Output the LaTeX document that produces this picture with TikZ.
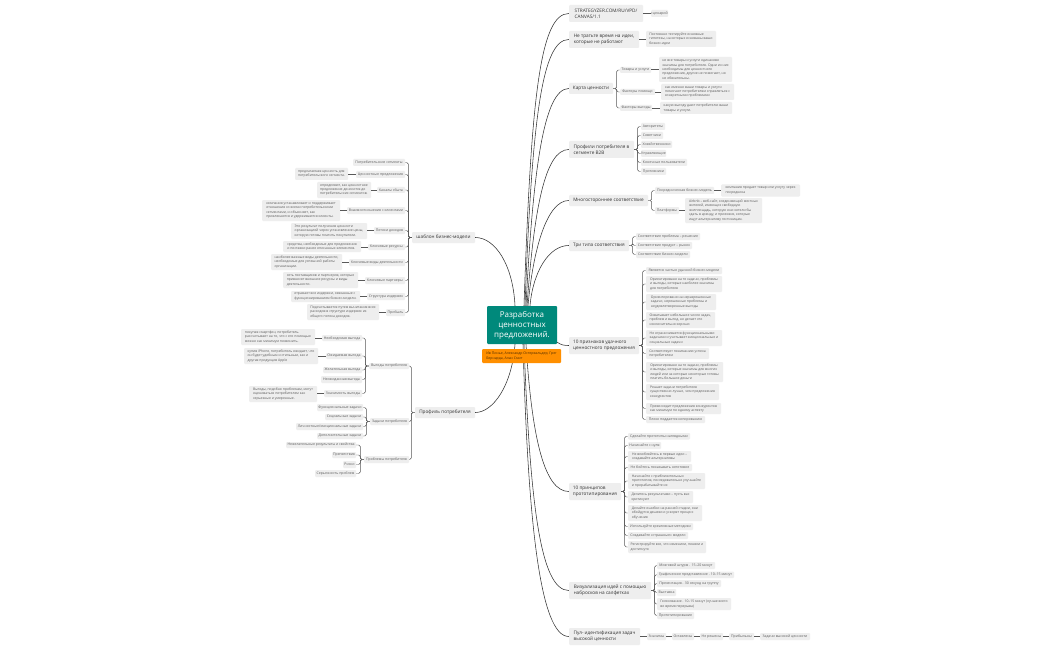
\documentclass[tikz,border=0pt]{standalone}
\usepackage{fontspec}
\setmainfont{Open Sans}
\definecolor{boxg}{HTML}{EEEEEE}
\definecolor{teal1}{HTML}{00897B}
\definecolor{oran}{HTML}{FF8F00}
\tikzset{
  bx/.style={fill=boxg,rounded corners=1pt,inner sep=0pt,align=left,anchor=center},
  topb/.style={bx,text=black!80,font=\fontsize{4.7}{6.2}\selectfont},
  subb/.style={bx,text=black!65,font=\fontsize{3.5}{4.5}\selectfont},
  detb/.style={bx,text=black!65,font=\fontsize{3.4}{4.4}\selectfont},
  rootb/.style={bx,fill=teal1,text=white,align=center,font=\fontsize{8}{10}\selectfont},
  noteb/.style={bx,fill=oran,text=black!70!oran,font=\fontsize{3.5}{4.5}\selectfont},
  mainline/.style={draw=black!80,line width=0.55pt},
  lv/.style={draw=black!65,line width=0.45pt,rounded corners=1.5pt},
}
\newcommand\bxn[7]{\node[#6,minimum width={(#4-#2)*1pt},minimum height={(#5-#3)*1pt}] (#1) at ({(#2+#4)/2},{(#3+#5)/2}) {#7};}
\newcommand\kidsR[2]{\foreach \c in {#2}{\draw[lv] (#1.east) -- ++(3.5,0) |- (\c.west);}}
\newcommand\kidsL[2]{\foreach \c in {#2}{\draw[lv] (#1.west) -- ++(-3.5,0) |- (\c.east);}}
\newcommand\hl[2]{\draw[lv] (#1.east |- #2.west) -- (#2.west);}
\begin{document}
\begin{tikzpicture}[x=1pt,y=-1pt]
\fill[white] (0,0) rectangle (1050,650);
\useasboundingbox (0,0) rectangle (1050,650);
% root
\bxn{ctr}{487}{306}{557}{344}{rootb}{Разработка\\ценностных\\предложений.}
% right upper
\bxn{r1}{569}{5}{643}{22}{topb}{STRATEGYZER.COM/RU/VPD/\\CANVAS/1.1}
\bxn{r1a}{651}{10}{668}{17}{subb}{сценарий}
\bxn{r2}{569}{31}{639}{48}{topb}{Не тратьте время на идеи,\\которые не работают}
\bxn{r2a}{646}{31}{716}{47}{detb}{Постоянно тестируйте основные\\гипотезы, на которых основаны ваши\\бизнес-идеи}
\bxn{r3}{569}{83}{613}{94}{topb}{Карта ценности}
\bxn{r3a}{620}{67}{651}{73}{subb}{Товары и услуги}
\bxn{r3b}{620}{89}{655}{95}{subb}{Факторы помощи}
\bxn{r3c}{620}{105}{652}{111}{subb}{Факторы выгоды}
\bxn{r3ad}{659}{57}{732}{82}{detb}{не все товары и услуги одинаково\\значимы для потребителя. Одни из них\\необходимы для ценностного\\предложения, другие не помогают, но\\не обязательны.}
\bxn{r3bd}{661}{84}{734}{100}{detb}{как именно ваши товары и услуги\\помогают потребителям справляться с\\конкретными проблемами}
\bxn{r3cd}{660}{102}{732}{114}{detb}{какую выгоду дают потребителю ваши\\товары и услуги.}
\bxn{r4}{569}{141}{634}{158}{topb}{Профили потребителя в\\сегменте B2B}
\bxn{r4a}{641}{123}{665}{130}{subb}{Авторитеты}
\bxn{r4b}{641}{132}{663}{139}{subb}{Советчики}
\bxn{r4c}{641}{141}{672}{148}{subb}{Хозяйственники}
\bxn{r4d}{641}{150}{666}{157}{subb}{Управляющие}
\bxn{r4e}{641}{159}{687}{166}{subb}{Конечные пользователи}
\bxn{r4f}{641}{168}{666}{175}{subb}{Противники}
\bxn{r5}{569}{195}{648}{206}{topb}{Многостороннее соответствие}
\bxn{r5a}{655}{187}{714}{194}{subb}{Посредническая бизнес-модель}
\bxn{r5b}{655}{207}{679}{214}{subb}{Платформы}
\bxn{r5ad}{721}{184.500}{800}{196.500}{detb}{компания продает товар или услугу через\\посредника}
\bxn{r5bd}{685}{198}{762}{223}{detb}{Airbnb – веб-сайт, соединяющий местных\\жителей, имеющих свободную\\жилплощадь, которую они хотели бы\\сдать в аренду, и приезжих, которые\\ищут альтернативу гостиницам.}
\bxn{r6}{569}{240}{629}{251}{topb}{Три типа соответствия}
\bxn{r6a}{636}{233}{700}{240}{subb}{Соответствие проблема – решение}
\bxn{r6b}{636}{242}{692}{249}{subb}{Соответствие продукт – рынок}
\bxn{r6c}{636}{251}{690}{258}{subb}{Соответствие бизнес-модели}
% 10 priznakov
\bxn{p}{569}{337}{639}{354}{topb}{10 признаков удачного\\ценностного предложения}
\bxn{p1}{646}{267}{722}{274}{subb}{Является частью удачной бизнес-модели}
\bxn{p2}{646}{276}{722}{292}{detb}{Ориентировано на те задачи, проблемы\\и выгоды, которые наиболее значимы\\для потребителя}
\bxn{p3}{646}{294}{716}{310}{detb}{Ориентировано на неразрешенные\\задачи, нерешенные проблемы и\\неудовлетворенные выгоды}
\bxn{p4}{646}{312}{715}{328}{detb}{Охватывает небольшое число задач,\\проблем и выгод, но делает это\\исключительно хорошо}
\bxn{p5}{646}{330}{722}{346}{detb}{Не ограничивается функциональными\\задачами и учитывает эмоциональные и\\социальные задачи}
\bxn{p6}{646}{348}{709}{359}{detb}{Соответствует пониманию успеха\\потребителем}
\bxn{p7}{646}{362}{723}{382}{detb}{Ориентировано на те задачи, проблемы\\и выгоды, которые значимы для многих\\людей или за которые некоторые готовы\\платить большие деньги}
\bxn{p8}{646}{384}{719}{400}{detb}{Решает задачи потребителя\\существенно лучше, чем предложения\\конкурентов}
\bxn{p9}{646}{403}{721}{414}{detb}{Превосходит предложения конкурентов\\как минимум по одному аспекту}
\bxn{p10}{646}{416}{705}{423}{subb}{Плохо поддается копированию}
% 10 principov
\bxn{q}{569}{483}{621}{500}{topb}{10 принципов\\прототипирования}
\bxn{q1}{628}{433}{690}{439.500}{subb}{Сделайте прототипы наглядными}
\bxn{q2}{628}{442}{661}{449}{subb}{Начинайте с нуля}
\bxn{q3}{628}{451}{691}{462}{detb}{Не влюбляйтесь в первые идеи –\\создавайте альтернативы}
\bxn{q4}{628}{464}{692}{471}{subb}{Не бойтесь показывать неготовое}
\bxn{q5}{628}{473}{705}{489}{detb}{Начинайте с приблизительных\\прототипов, последовательно улучшайте\\и прорабатывайте их}
\bxn{q6}{628}{491}{693}{503}{detb}{Делитесь результатами – пусть вас\\критикуют}
\bxn{q7}{628}{505}{702}{521}{detb}{Делайте ошибки на ранней стадии, они\\обойдутся дешево и ускорят процесс\\обучения}
\bxn{q8}{628}{523}{693}{530}{subb}{Используйте креативные методики}
\bxn{q9}{628}{532}{688}{539}{subb}{Создавайте «страшные» модели}
\bxn{q10}{628}{541}{706}{553}{detb}{Регистрируйте все, что изменили, поняли и\\достигнуто}
% vis
\bxn{v}{569}{582}{651}{599}{topb}{Визуализация идей с помощью\\набросков на салфетках}
\bxn{v1}{657}{562}{715}{569}{subb}{Мозговой штурм . 15–20 минут}
\bxn{v2}{657}{571.500}{734}{578}{subb}{Графическое представление . 10–15 минут}
\bxn{v3}{657}{580}{721}{587}{subb}{Презентация . 30 секунд на группу}
\bxn{v4}{657}{589}{676}{596}{subb}{Выставка}
\bxn{v5}{657}{598}{731}{610}{detb}{Голосование . 10–15 минут (лучше всего\\во время перерыва)}
\bxn{v6}{657}{612}{694}{619}{subb}{Прототипирование}
\bxn{u}{569}{628}{640}{645}{topb}{Пул- идентификация задач\\высокой ценности}
\bxn{u1}{647}{633}{666}{640}{subb}{Значимы}
\bxn{u2}{672}{633}{694}{640}{subb}{Оставлены}
\bxn{u3}{700}{633}{723}{640}{subb}{Не решены}
\bxn{u4}{729}{633}{754}{640}{subb}{Прибыльны}
\bxn{u5}{760}{633}{810}{640}{subb}{Задачи высокой ценности}
% left: business model
\bxn{m}{412}{232}{475}{243}{topb}{шаблон бизнес-модели}
\bxn{m1}{353}{159}{405}{166}{subb}{Потребительские сегменты}
\bxn{m2}{356}{171}{405}{178}{subb}{Ценностные предложения}
\bxn{m2d}{295}{168}{348}{180}{detb}{предлагаемая ценность для\\потребительского сегмента.}
\bxn{m3}{377}{187}{405}{193}{subb}{Каналы сбыта}
\bxn{m3d}{317}{182}{371}{198}{detb}{определяют, как ценностное\\предложение доносится до\\потребительских сегментов.}
\bxn{m4}{347}{207}{405}{214}{subb}{Взаимоотношения с клиентами}
\bxn{m4d}{262}{200}{340}{221}{detb}{компания устанавливает и поддерживает\\отношения со всеми потребительскими\\сегментами, и объясняет, как\\привлекаются и удерживаются клиенты.}
\bxn{m5}{374}{227}{405}{234}{subb}{Потоки доходов}
\bxn{m5d}{291}{223}{367}{239}{detb}{Это результат получения ценности\\организацией через установление цены,\\которую готовы платить покупатели.}
\bxn{m6}{368}{244}{405}{250}{subb}{Ключевые ресурсы}
\bxn{m6d}{283}{241}{361}{252}{detb}{средства, необходимые для предложения\\и поставки ранее описанных элементов.}
\bxn{m7}{349}{259}{405}{266}{subb}{Ключевые виды деятельности}
\bxn{m7d}{271}{254}{342}{270}{detb}{наиболее важные виды деятельности,\\необходимые для успешной работы\\организации.}
\bxn{m8}{365}{277}{405}{284}{subb}{Ключевые партнеры}
\bxn{m8d}{283}{272}{358}{288}{detb}{сеть поставщиков и партнеров, которые\\привносят внешние ресурсы и виды\\деятельности.}
\bxn{m9}{367}{293}{405}{300}{subb}{Структура издержек}
\bxn{m9d}{291}{291}{360}{302}{detb}{отражает все издержки, связанные с\\функционированием бизнес-модели.}
\bxn{m10}{386}{309}{405}{316}{subb}{Прибыль}
\bxn{m10d}{307}{304}{379}{320}{detb}{Подсчитывается путем вычитания всех\\расходов в структуре издержек из\\общего потока доходов.}
% left: profile
\bxn{c}{415}{407}{475}{418}{topb}{Профиль потребителя}
\bxn{g}{369}{363}{409}{369}{subb}{Выгоды потребителя}
\bxn{g1}{322}{335}{362}{341}{subb}{Необходимая выгода}
\bxn{g1d}{241}{329}{315}{345}{detb}{покупая смартфон, потребитель\\рассчитывает на то, что с его помощью\\можно как минимум позвонить.}
\bxn{g2}{326}{353}{362}{359}{subb}{Ожидаемая выгода}
\bxn{g2d}{244}{348}{318}{364}{detb}{купив iPhone, потребитель ожидает, что\\он будет удобным и стильным, как и\\другая продукция Apple}
\bxn{g3}{323}{367}{362}{373}{subb}{Желательная выгода}
\bxn{g4}{321}{376}{362}{383}{subb}{Неожиданная выгода}
\bxn{g5}{324}{390}{362}{397}{subb}{Значимость выгоды}
\bxn{g5d}{249}{386}{317}{402}{detb}{Выгоды, подобно проблемам, могут\\оцениваться потребителем как\\серьезные и умеренные.}
\bxn{z}{370}{418}{409}{425}{subb}{Задачи потребителя}
\bxn{z1}{317}{404}{363}{411}{subb}{Функциональные задачи}
\bxn{z2}{325}{414}{363}{420}{subb}{Социальные задачи}
\bxn{z3}{296}{423}{363}{430}{subb}{Личностные/эмоциональные задачи}
\bxn{z4}{317}{433}{363}{439}{subb}{Дополнительные задачи}
\bxn{t}{364}{456}{409}{463}{subb}{Проблемы потребителя}
\bxn{t1}{286}{442}{356}{448}{subb}{Нежелательные результаты и свойства}
\bxn{t2}{332}{452}{356}{458}{subb}{Препятствия}
\bxn{t3}{343}{461}{356}{468}{subb}{Риски}
\bxn{t4}{315}{470}{356}{477}{subb}{Серьезность проблем}
% main curves
\draw[mainline] ([xshift=2pt]ctr.north) .. controls +(7,-206) and +(-29,0) .. (r1.west);
\draw[mainline] ([xshift=3pt]ctr.north) .. controls +(7,-186) and +(-27,0) .. (r2.west);
\draw[mainline] ([xshift=4pt]ctr.north) .. controls +(7,-136) and +(-25,0) .. (r3.west);
\draw[mainline] ([xshift=5pt]ctr.north) .. controls +(7,-96) and +(-24,0) .. (r4.west);
\draw[mainline] ([xshift=6pt]ctr.north) .. controls +(5,-56) and +(-22,0) .. (r5.west);
\draw[mainline] ([xshift=8pt]ctr.north) .. controls +(3,-34) and +(-20,0) .. (r6.west);
\draw[mainline] ([xshift=-7pt]ctr.north) .. controls +(-2,-41) and +(20,0) .. (m.east);
\draw[mainline] ([xshift=-7pt]ctr.south) .. controls +(-3,41) and +(18,0) .. (c.east);
\draw[mainline] ([yshift=2pt]ctr.south east) .. controls +(4,3) and +(-4,0) .. (p.west);
\draw[mainline] ([xshift=4pt]ctr.south) .. controls +(6,96) and +(-24,0) .. (q.west);
\draw[mainline] ([xshift=2pt]ctr.south) .. controls +(6,156) and +(-29,0) .. (v.west);
\draw[mainline] ([xshift=1pt]ctr.south) .. controls +(5,176) and +(-29,0) .. (u.west);
% note above lines
\bxn{nt}{482}{349}{561}{363}{noteb}{Ив Пинье, Александр Остервальдер, Грег\\Бернарда, Алан Смит}
% sub connectors right
\draw[lv] (r1.east |- r1a.west) -- (r1a.west);
\draw[lv] (r2.east |- r2a.west) -- (r2a.west);
\kidsR{r3}{r3a,r3b,r3c}
\hl{r3a}{r3ad}\hl{r3b}{r3bd}\hl{r3c}{r3cd}
\kidsR{r4}{r4a,r4b,r4c,r4d,r4e,r4f}
\kidsR{r5}{r5a,r5b}
\hl{r5a}{r5ad}\hl{r5b}{r5bd}
\kidsR{r6}{r6a,r6b,r6c}
\kidsR{p}{p1,p2,p3,p4,p5,p6,p7,p8,p9,p10}
\kidsR{q}{q1,q2,q3,q4,q5,q6,q7,q8,q9,q10}
\kidsR{v}{v1,v2,v3,v4,v5,v6}
\draw[lv] (u.east |- u1.west) -- (u1.west);
\hl{u1}{u2}\hl{u2}{u3}\hl{u3}{u4}\hl{u4}{u5}
% left connectors
\kidsL{m}{m1,m2,m3,m4,m5,m6,m7,m8,m9,m10}
\hl{m2d}{m2}\hl{m3d}{m3}\hl{m4d}{m4}\hl{m5d}{m5}\hl{m6d}{m6}\hl{m7d}{m7}\hl{m8d}{m8}\hl{m9d}{m9}\hl{m10d}{m10}
\kidsL{c}{g,z,t}
\kidsL{g}{g1,g2,g3,g4,g5}
\hl{g1d}{g1}\hl{g2d}{g2}\hl{g5d}{g5}
\kidsL{z}{z1,z2,z3,z4}
\kidsL{t}{t1,t2,t3,t4}
\end{tikzpicture}
\end{document}
